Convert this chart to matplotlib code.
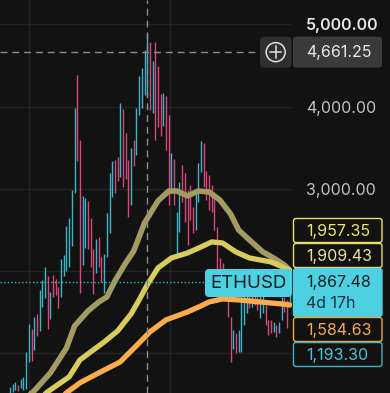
import numpy as np
import matplotlib.pyplot as plt
from matplotlib.patches import FancyBboxPatch, Circle

plt.rcParams['font.family'] = ['Inter', 'DejaVu Sans']

# ETHUSD weekly candles (high / low / 1 = up week)
highs = [592, 629, 653, 617, 690, 714, 1017, 1357, 1296, 1442,
         1478, 1770, 1892, 2050, 1940, 1746, 1952, 1904, 1806, 2147,
         2196, 2548, 2645, 2986, 3982, 4384, 3593, 2913, 2888, 2852,
         2645, 2268, 2390, 2414, 2171, 2208, 2706, 3192, 3338, 3350,
         3387, 4043, 3970, 3678, 3350, 3496, 3593, 3982, 4371, 4469,
         4688, 4894, 4785, 4554, 4785, 4493, 4153, 4165, 4128, 3897,
         3435, 3362, 2718, 3083, 3290, 3192, 2986, 3046, 2779, 2986,
         3314, 3581, 3557, 3216, 3168, 3046, 2961, 2536, 2159, 2098,
         2013, 1709, 1442, 1284, 1248, 1284, 1685, 1709, 1892, 1831,
         2037, 1831, 1831, 1831, 1831, 1588, 1406, 1406, 1381, 1345,
         1381, 1685, 1685, 1649, 1952]
lows = [505, 532, 556, 544, 580, 556, 568, 896, 908, 1041,
        1211, 1272, 1563, 1673, 1296, 1418, 1685, 1709, 1551, 1685,
        1940, 2001, 2050, 2305, 2949, 3338, 1734, 2074, 2281, 2268,
        2050, 1721, 1977, 2050, 1867, 1734, 2171, 2463, 2900, 2949,
        3095, 3144, 3022, 3119, 2657, 2803, 3277, 3411, 3897, 3982,
        4140, 4116, 3958, 3922, 3593, 3751, 3642, 3764, 3472, 2803,
        2949, 2803, 2171, 2475, 2840, 2597, 2317, 2621, 2463, 2499,
        2840, 3204, 3022, 2864, 2742, 2718, 2499, 1806, 1770, 1685,
        1649, 1442, 896, 1053, 1005, 1017, 1017, 1345, 1491, 1551,
        1563, 1588, 1527, 1430, 1491, 1345, 1223, 1248, 1260, 1199,
        1248, 1406, 1503, 1309, 1563]
ups = [1, 1, 1, 0, 1, 1, 1, 1, 0, 1,
       0, 1, 1, 1, 0, 1, 0, 0, 0, 1,
       1, 1, 1, 1, 1, 0, 0, 1, 1, 0,
       0, 0, 1, 0, 0, 1, 1, 1, 1, 0,
       0, 1, 0, 0, 0, 1, 0, 1, 1, 1,
       1, 1, 0, 1, 0, 0, 0, 1, 0, 0,
       1, 0, 1, 1, 0, 0, 0, 0, 0, 1,
       1, 1, 0, 0, 0, 0, 0, 0, 0, 0,
       0, 0, 0, 1, 0, 1, 1, 1, 1, 0,
       1, 0, 0, 1, 1, 0, 0, 0, 1, 0,
       1, 1, 0, 0, 1]

# moving averages, sampled along the candles
ma_slow_idx = [5, 9, 15, 21, 24, 29, 33, 36, 39, 43, 46, 50, 55, 59, 62, 66, 70, 74, 78, 82, 85, 89, 94, 98, 102, 104]
ma_slow_val = [432, 544, 762, 1065, 1332, 1515, 1624, 1685, 1880, 2098, 2244, 2585, 2852, 2973, 2973, 2913,
               2973, 2961, 2864, 2694, 2499, 2378, 2232, 2159, 2074, 2010]
ma_mid_idx = [10, 14, 22, 26, 30, 35, 40, 45, 48, 51, 55, 60, 66, 71, 75, 79, 84, 89, 97, 104]
ma_mid_val = [420, 532, 714, 920, 1017, 1138, 1272, 1478, 1649, 1831, 2037, 2159, 2220, 2293, 2354, 2341,
              2232, 2159, 2111, 2013]
ma_long_idx = [18, 21, 26, 33, 41, 48, 52, 58, 66, 71, 74, 79, 85, 93, 101, 104]
ma_long_val = [432, 520, 641, 762, 896, 1126, 1260, 1406, 1503, 1576, 1624, 1661, 1649, 1624, 1600, 1588]

grid_prices = [1000, 2000, 3000, 4000, 5000]
tick_prices = [3000, 4000, 5000]
grid_idx = [7.1, 59.5]
cross_idx = 51
cross_price = 4661.25
last_price = 1867.48
stack_labels = ['1,957.35', '1,909.43', '1,867.48', '1,584.63', '1,193.30']

BG = '#121212'
UP = '#3db5c6'
DOWN = '#d8467c'
CYAN = '#4dd0e1'

W, H = 390, 393
fig = plt.figure(figsize=(W / 100, H / 100), dpi=100, facecolor=BG)
ax = fig.add_axes([0, 0, 292 / W, 1])
ax.set_facecolor(BG)
ax.set_xlim(-3.72, 104.83)
ax.set_ylim(517.4, 5295)

for p in grid_prices:
    ax.axhline(p, color='#232323', lw=1, zorder=0)
for g in grid_idx:
    ax.axvline(g, color='#232323', lw=1, zorder=0)

x = np.arange(len(highs))
cols = [UP if u else DOWN for u in ups]
ax.vlines(x, lows, highs, colors=cols, linewidth=1.0, zorder=2)

ax.plot(ma_slow_idx, ma_slow_val, color='#a39b62', lw=4.0, solid_capstyle='round', zorder=3)
ax.plot(ma_mid_idx, ma_mid_val, color='#d8cc5f', lw=3.8, solid_capstyle='round', zorder=3)
ax.plot(ma_long_idx, ma_long_val, color='#fcac4b', lw=3.8, solid_capstyle='round', zorder=3)

# crosshair + last price line
ax.axvline(cross_idx, color='#8c8c8c', lw=1, dashes=(5, 3.5), zorder=4)
ax.plot([-3.72, 92.2], [cross_price, cross_price], color='#8c8c8c', lw=1, dashes=(5, 3.5), zorder=4)
ax.plot([-3.72, 72.5], [last_price, last_price], color=UP, lw=1, dashes=(1, 1.6), zorder=4)

ax.set_yticks(tick_prices)
ax.set_yticklabels([f'{p:,.2f}' for p in tick_prices])
ax.yaxis.tick_right()
ax.tick_params(axis='y', length=0, pad=10, labelsize=11.5, labelcolor='#c2c2c2')
ax.get_yticklabels()[-1].set_color('#e6e6e6')
ax.get_yticklabels()[-1].set_fontweight('semibold')
ax.set_xticks([])
for s in ax.spines.values():
    s.set_visible(False)

# overlay in pixel units for the price-scale boxes
ov = fig.add_axes([0, 0, 1, 1], facecolor='none')
ov.set_xlim(0, W)
ov.set_ylim(H, 0)
ov.axis('off')

def px_y(val):
    return H - ax.transData.transform((0, val))[1]

cy = px_y(cross_price)
ov.add_patch(FancyBboxPatch((260, cy - 15.5), 31.5, 31, boxstyle='round,pad=0,rounding_size=4',
                            fc='#2f2f2f', ec='none'))
ov.add_patch(Circle((275.7, cy), 9.5, fc='none', ec='#e0e0e0', lw=1.1))
ov.plot([270, 281.4], [cy, cy], color='#e0e0e0', lw=1.1)
ov.plot([275.7, 275.7], [cy - 5.7, cy + 5.7], color='#e0e0e0', lw=1.1)
ov.add_patch(FancyBboxPatch((293, cy - 15.5), 89, 31, boxstyle='round,pad=0,rounding_size=3',
                            fc='#3a3a3a', ec='none'))
ov.text(306, cy, f'{cross_price:,.2f}', color='#e8e8e8', fontsize=11.5, va='center', ha='left')

# ETHUSD symbol label
ov.add_patch(FancyBboxPatch((205, 269), 87, 28, boxstyle='round,pad=0,rounding_size=4',
                            fc=CYAN, ec='none'))
ov.text(248.5, 283.5, 'ETHUSD', color='#0c1d22', fontsize=13.5, va='center', ha='center')

# stacked value boxes
boxes = [(218, 25, '#f0e36b', BG, '#f0e36b'),
         (243, 25, '#e8dc68', BG, '#ebe19a'),
         (268, 49, CYAN, CYAN, '#0c1d22'),
         (317, 25, '#f0a743', BG, '#f5a94b'),
         (342, 25, '#3ab6c6', BG, '#4cc5d7')]
for (top, h, ec, fc, tc), lab in zip(boxes, stack_labels):
    ov.add_patch(FancyBboxPatch((293.5, top + 0.5), 88.5, h - 1, boxstyle='round,pad=0,rounding_size=2.5',
                                fc=fc, ec=ec, lw=1))
    if fc == CYAN:
        ov.text(306, top + 14, lab, color=tc, fontsize=11.5, va='center', ha='left')
        ov.text(306, top + 35, '4d 17h', color='#10363d', fontsize=11.5, va='center', ha='left')
    else:
        ov.text(306, top + h / 2 + 1, lab, color=tc, fontsize=11.5, va='center', ha='left')

fig.savefig('out.png', dpi=100, facecolor=BG)
